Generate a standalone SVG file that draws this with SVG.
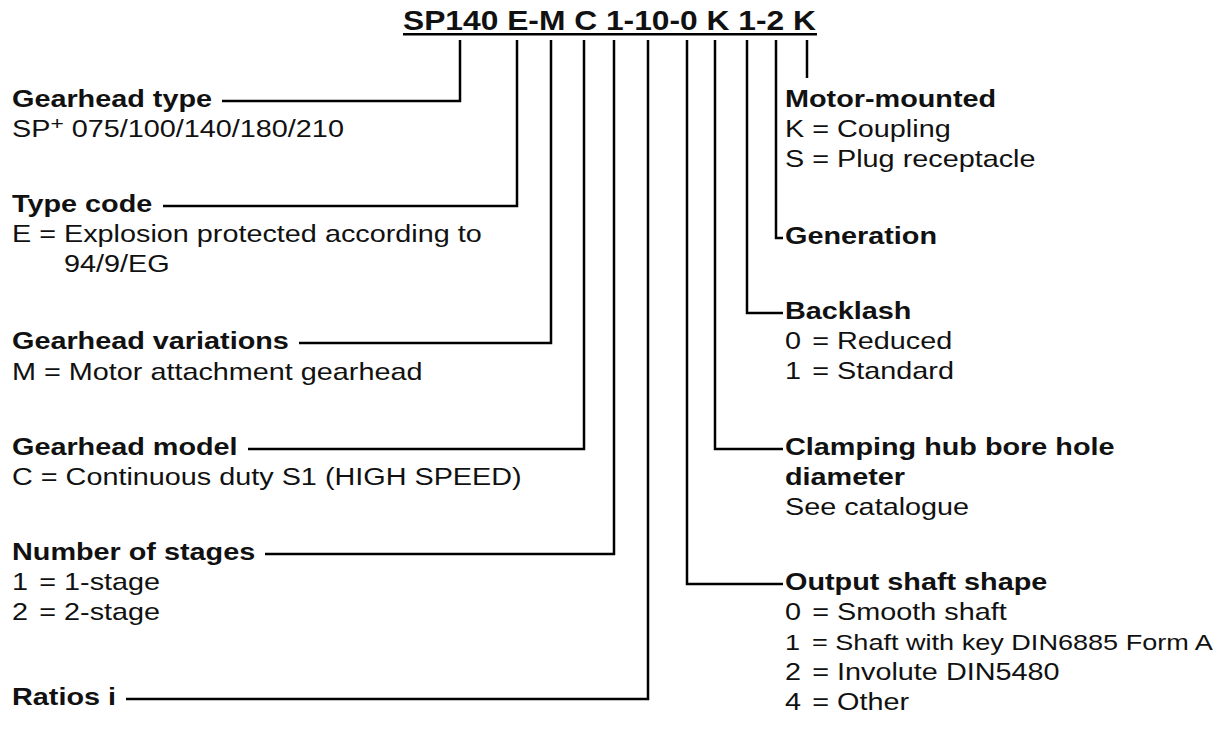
<svg xmlns="http://www.w3.org/2000/svg" width="1223" height="740" viewBox="0 0 1223 740">
<style>
text{fill:#111;font-family:"Liberation Sans",Arial,Helvetica,sans-serif;font-size:24px}
.b{font-weight:bold}
.t{font-weight:bold;font-size:28px}
.c path{fill:none;stroke:#000;stroke-width:2.5}
.sup{font-size:19px}
</style>
<rect width="1223" height="740" fill="#fff"/>
<g id="title">
<text class="t" x="403" y="30" textLength="413" lengthAdjust="spacingAndGlyphs">SP140 E-M C 1-10-0 K 1-2 K</text>
<rect x="403" y="33" width="414" height="2.5" fill="#000"/>
</g>
<g id="connectors" class="c">
<path d="M460,40 V101 H222"/>
<path d="M517,40 V206 H163"/>
<path d="M551,40 V343 H299"/>
<path d="M584,40 V449 H248"/>
<path d="M614,40 V554 H265"/>
<path d="M648,40 V699 H126"/>
<path d="M687,40 V584 H783"/>
<path d="M715,40 V449 H783"/>
<path d="M747,40 V313 H783"/>
<path d="M776,40 V238 H783"/>
<path d="M807,40 V78"/>
</g>
<g id="gearhead-type">
<text class="b" transform="translate(12 107) scale(1.2 1)">Gearhead type</text>
<text transform="translate(12 137) scale(1.2 1)">SP<tspan class="sup" dy="-7">+</tspan><tspan dy="7"> 075/100/140/180/210</tspan></text>
</g>
<g id="type-code">
<text class="b" transform="translate(12 212) scale(1.2 1)">Type code</text>
<text transform="translate(12 242) scale(1.2 1)">E = Explosion protected according to</text>
<text transform="translate(64 272) scale(1.2 1)">94/9/EG</text>
</g>
<g id="gearhead-variations">
<text class="b" transform="translate(12 349) scale(1.2 1)">Gearhead variations</text>
<text transform="translate(12 380) scale(1.2 1)">M = Motor attachment gearhead</text>
</g>
<g id="gearhead-model">
<text class="b" transform="translate(12 455) scale(1.2 1)">Gearhead model</text>
<text transform="translate(12 485) scale(1.2 1)">C = Continuous duty S1 (HIGH SPEED)</text>
</g>
<g id="number-of-stages">
<text class="b" transform="translate(12 560) scale(1.2 1)">Number of stages</text>
<text transform="translate(12 590) scale(1.2 1)">1<tspan x="22.7">= 1-stage</tspan></text>
<text transform="translate(12 620) scale(1.2 1)">2<tspan x="22.7">= 2-stage</tspan></text>
</g>
<g id="ratios">
<text class="b" transform="translate(12 705) scale(1.2 1)">Ratios i</text>
</g>
<g id="motor-mounted">
<text class="b" transform="translate(785 107) scale(1.2 1)">Motor-mounted</text>
<text transform="translate(785 137) scale(1.2 1)">K = Coupling</text>
<text transform="translate(785 167) scale(1.2 1)">S = Plug receptacle</text>
</g>
<g id="generation">
<text class="b" transform="translate(785 244) scale(1.2 1)">Generation</text>
</g>
<g id="backlash">
<text class="b" transform="translate(785 319) scale(1.2 1)">Backlash</text>
<text transform="translate(785 349) scale(1.2 1)">0<tspan x="22.7">= Reduced</tspan></text>
<text transform="translate(785 379) scale(1.2 1)">1<tspan x="22.7">= Standard</tspan></text>
</g>
<g id="clamping-hub">
<text class="b" transform="translate(785 455) scale(1.2 1)">Clamping hub bore hole</text>
<text class="b" transform="translate(785 485) scale(1.2 1)">diameter</text>
<text transform="translate(785 515) scale(1.2 1)">See catalogue</text>
</g>
<g id="output-shaft">
<text class="b" transform="translate(785 590) scale(1.2 1)">Output shaft shape</text>
<text transform="translate(785 620) scale(1.2 1)">0<tspan x="22.7">= Smooth shaft</tspan></text>
<text transform="translate(785 650) scale(1.26 1)" style="font-size:21.5px">1<tspan x="21.4">= Shaft with key DIN6885 Form A</tspan></text>
<text transform="translate(785 680) scale(1.2 1)">2<tspan x="22.7">= Involute DIN5480</tspan></text>
<text transform="translate(785 710) scale(1.2 1)">4<tspan x="22.7">= Other</tspan></text>
</g>
</svg>
